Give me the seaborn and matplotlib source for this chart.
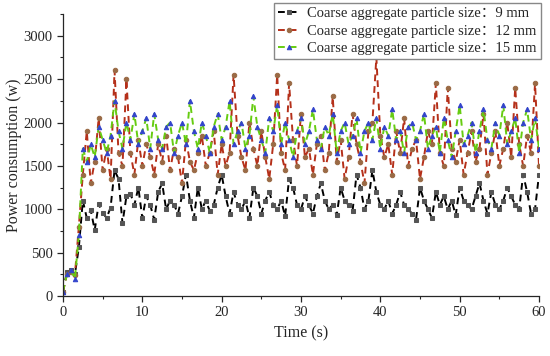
import numpy as np
import pandas as pd
import matplotlib
matplotlib.use("Agg")
import matplotlib.pyplot as plt
import seaborn as sns

# time axis, sampled every 0.5 s
time_s = np.arange(0, 60.5, 0.5)

power_9mm = [50, 280, 300, 250, 560, 1100, 900, 990, 760, 1060,
             960, 900, 1020, 1450, 1350, 840, 1150, 1180, 1050, 1250,
             900, 1150, 1050, 880, 1200, 1300, 1000, 1100, 1050, 950,
             1150, 1400, 1100, 900, 1250, 1000, 1100, 980, 1050, 1250,
             1400, 1150, 950, 1200, 1050, 1000, 1100, 900, 1250, 1150,
             950, 1100, 1200, 1050, 1000, 1100, 920, 1350, 1250, 1050,
             1000, 1150, 1050, 950, 1150, 1300, 1100, 1000, 1050, 930,
             1250, 1100, 1050, 980, 1400, 1250, 1000, 1100, 1450, 1200,
             1050, 1000, 1100, 950, 1050, 1200, 1050, 1000, 950, 880,
             1250, 1100, 1000, 900, 1200, 1050, 1150, 1000, 1100, 930,
             1250, 1100, 1050, 1000, 1150, 1300, 1100, 950, 1200, 1050,
             1000, 1100, 1250, 1150, 1050, 1000, 1400, 1200, 950, 1000,
             1400]

power_12mm = [50, 250, 280, 240, 800, 1400, 1900, 1300, 1550, 2050,
              1450, 1700, 1350, 2600, 1650, 1500, 2500, 1650, 1400, 1800,
              1500, 1750, 1600, 1400, 1750, 1550, 1850, 1450, 1700, 1600,
              1300, 1800, 1550, 1450, 1650, 1850, 1500, 1650, 1900, 1400,
              1750, 1500, 1650, 2550, 1850, 1600, 1450, 2000, 1700, 1500,
              1900, 1600, 1350, 1750, 2550, 1650, 1450, 2450, 1800, 1500,
              2100, 1600, 1700, 1400, 1750, 1850, 1450, 1650, 2300, 1550,
              1800, 1350, 1600, 2100, 1750, 1550, 1300, 1900, 2000, 2750,
              1850, 1600, 1750, 1400, 1900, 1650, 2050, 1500, 1700, 1800,
              1350, 1600, 1900, 1750, 2450, 1650, 1500, 2400, 1700, 1550,
              1800, 1400, 1650, 1900, 1550, 1700, 2100, 1400, 1650, 1900,
              1500, 1700, 2000, 1600, 2400, 1750, 1500, 1850, 1650, 2450,
              1500]

power_15mm = [50, 250, 300, 200, 700, 1700, 1550, 1750, 1600, 1950,
              1800, 1650, 1850, 2250, 1900, 1700, 2000, 1800, 2100, 1750,
              1900, 2050, 1700, 2100, 1800, 1700, 1950, 2000, 1650, 1850,
              2000, 1750, 2250, 1900, 1700, 2000, 1850, 1650, 1950, 2100,
              1800, 1950, 2250, 1750, 1900, 2000, 1700, 1850, 2300, 1950,
              1800, 1650, 2050, 1900, 2200, 1750, 2000, 1800, 1600, 1900,
              2050, 1750, 1900, 2150, 1800, 1700, 1950, 1850, 2100, 1650,
              1900, 2000, 1750, 1850, 2050, 1650, 1900, 2000, 1800, 2050,
              1700, 1950, 1850, 2150, 1800, 1900, 1650, 1950, 2000, 1800,
              1900, 2100, 1700, 1850, 1950, 1650, 2050, 1800, 1600, 1900,
              2200, 1750, 1850, 2000, 1650, 1900, 2150, 1800, 1700, 2000,
              1850, 2200, 1750, 1900, 2050, 1650, 2000, 2150, 1800, 2050,
              1700]

labels = ["Coarse aggregate particle size\uff1a9 mm",
          "Coarse aggregate particle size\uff1a12 mm",
          "Coarse aggregate particle size\uff1a15 mm"]

df = pd.DataFrame({
    "Time": np.tile(time_s, 3),
    "Power": power_9mm + power_12mm + power_15mm,
    "Series": np.repeat(labels, len(time_s)),
})

sns.set_style("ticks")
plt.rcParams["font.family"] = ["Liberation Serif", "Noto Sans CJK SC"]

fig = plt.figure(figsize=(5.5, 3.56), dpi=100)
ax = fig.add_axes([0.1145, 0.1685, 0.8655, 0.792])

styles = [
    dict(color="black", marker="s", mfc="#555555", mec="#555555"),
    dict(color="#B5301A", marker="o", mfc="#9A6A45", mec="#9A6A45"),
    dict(color="#66CC11", marker="^", mfc="#3344CC", mec="#3344CC"),
]
for lab, st in zip(labels, styles):
    sub = df[df["Series"] == lab]
    sns.lineplot(data=sub, x="Time", y="Power", ax=ax, label=lab,
                 color=st["color"], linewidth=1.4, linestyle=(0, (3.5, 2.5)),
                 marker=st["marker"], markersize=3.2,
                 markerfacecolor=st["mfc"], markeredgecolor=st["mec"])

ax.set_xlim(0, 60)
ax.set_ylim(0, 3250)
ax.set_xticks(range(0, 61, 10))
ax.set_xticks(range(0, 61, 5), minor=True)
ax.set_yticks(range(0, 3001, 500))
ax.set_yticks(range(0, 3251, 250), minor=True)
ax.tick_params(axis="both", which="major", direction="out", length=4,
               labelsize=10.5, width=0.9)
ax.tick_params(axis="both", which="minor", direction="out", length=2.5, width=0.8)
for side in ["top", "right"]:
    ax.spines[side].set_visible(False)
for side in ["left", "bottom"]:
    ax.spines[side].set_linewidth(0.9)

ax.set_xlabel("Time (s)", fontsize=11.5)
ax.set_ylabel("Power consumption (w)", fontsize=11.5, labelpad=1)

ax.legend(loc="upper right", bbox_to_anchor=(0.984, 0.992),
          bbox_transform=fig.transFigure, fontsize=10.5, frameon=True,
          fancybox=False, edgecolor="#888888", framealpha=1,
          handlelength=1.5, handletextpad=0.5, borderpad=0.3,
          labelspacing=0.28, borderaxespad=0)

fig.savefig("out.png", dpi=100)
